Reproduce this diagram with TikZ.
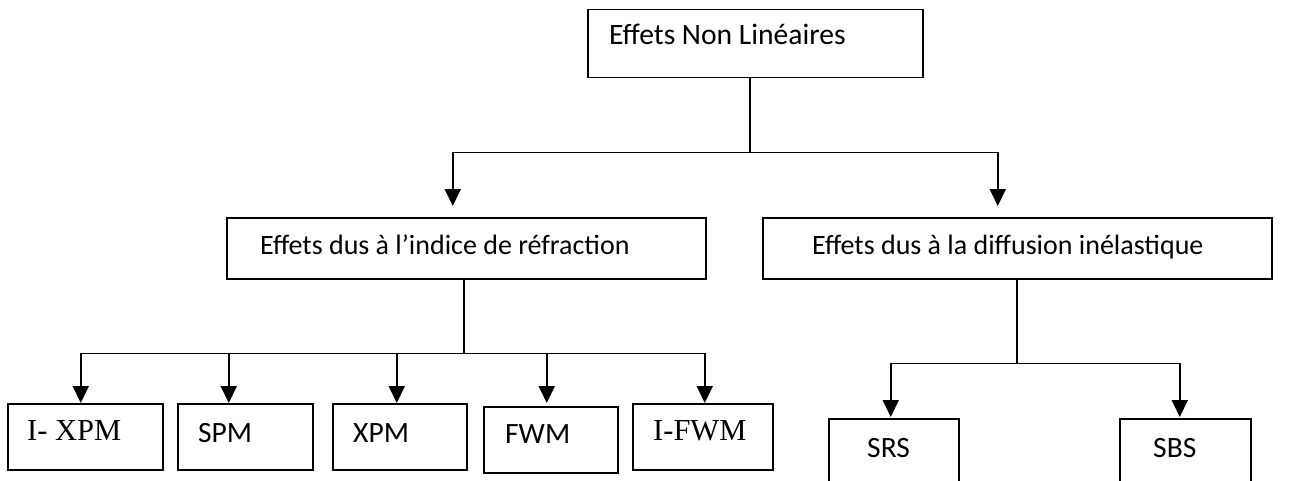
\documentclass[tikz,border=0pt]{standalone}
\usepackage{fontspec}
\setmainfont{Carlito}
\newfontfamily\timesfont{Liberation Serif}
\usepackage{tikz}
\usetikzlibrary{calc}
\usetikzlibrary{arrows.meta}
\usetikzlibrary{positioning}

\tikzset{
  effbox/.style={draw,line width=1.5pt,anchor=north west,inner sep=0pt},
  efftxt/.style={anchor=base west,inner sep=0pt,font=\fontsize{28}{34}\selectfont},
  small/.style={font=\fontsize{29.5}{35}\selectfont},
  serif/.style={font=\fontsize{30.5}{36}\timesfont},
  link/.style={line width=1.9pt},
  flow/.style={line width=1.9pt,-{Triangle[width=16pt,length=17pt]}}
}

\begin{document}
\begin{tikzpicture}[x=1pt,y=-1pt]
\useasboundingbox (0,0) rectangle (1297,481);

\node[effbox,minimum width=335pt,minimum height=68pt] (nl) at (587,9) {};
\node[efftxt,font=\fontsize{29.6}{35}\selectfont] (nl-t) at ([shift={(22,36)}]nl.north west) {Effets Non Linéaires};

\node[effbox,minimum width=479pt,minimum height=61pt] (refr) at (226,217) {};
\node[efftxt] (refr-t) at ([shift={(34,37)}]refr.north west) {Effets dus à l’indice de réfraction};
\node[effbox,minimum width=509pt,minimum height=61pt] (diff) at (762,217) {};
\node[efftxt] (diff-t) at ([shift={(50,37)}]diff.north west) {Effets dus à la diffusion inélastique};

\node[effbox,minimum width=155pt,minimum height=66pt] (ixpm) at (7,403) {};
\node[efftxt,serif] (ixpm-t) at ([shift={(20,37)}]ixpm.north west) {I- XPM};
\node[effbox,minimum width=135pt,minimum height=66pt] (spm) at (177,403) {};
\node[efftxt,small] (spm-t) at ([shift={(21,39)}]spm.north west) {SPM};
\node[effbox,minimum width=134pt,minimum height=66pt] (xpm) at (332,403) {};
\node[efftxt,small] (xpm-t) at ([shift={(21,39)}]xpm.north west) {XPM};
\node[effbox,minimum width=134pt,minimum height=66pt] (fwm) at (483,406) {};
\node[efftxt,small] (fwm-t) at ([shift={(22,37)}]fwm.north west) {FWM};
\node[effbox,minimum width=140pt,minimum height=66pt] (ifwm) at (632,403) {};
\node[efftxt,serif] (ifwm-t) at ([shift={(21,37)}]ifwm.north west) {I-FWM};

\node[effbox,minimum width=130pt,minimum height=90pt] (srs) at (828,418) {};
\node[efftxt,small] (srs-t) at ([shift={(39,39)}]srs.north west) {SRS};
\node[effbox,minimum width=131pt,minimum height=90pt] (sbs) at (1119,418) {};
\node[efftxt,small] (sbs-t) at ([shift={(34,39)}]sbs.north west) {SBS};

\draw[link] ([xshift=-5pt]nl.south) -- ++(0,74) coordinate (j0);
\draw[flow] (j0) -| ([xshift=-13.5pt,yshift=11pt]refr.north);
\draw[flow] (j0) -| ([xshift=-19.5pt,yshift=11pt]diff.north);

\draw[link] ([xshift=-2.5pt]refr.south) -- ++(0,74) coordinate (j1);
\draw[flow] (j1) -| ([xshift=-4.5pt]ixpm.north);
\draw[flow] (j1) -| ([xshift=-16.5pt]spm.north);
\draw[flow] (j1) -| ([xshift=-3pt]xpm.north);
\draw[flow] (j1) -| ([xshift=-4pt,yshift=3pt]fwm.north);
\draw[flow] (j1) -| ([xshift=2pt]ifwm.north);

\draw[link] (diff.south) -- ++(0,84) coordinate (j2);
\draw[flow] (j2) -| ([xshift=-3pt,yshift=1pt]srs.north);
\draw[flow] (j2) -| ([xshift=-5.5pt,yshift=1pt]sbs.north);
\end{tikzpicture}
\end{document}
